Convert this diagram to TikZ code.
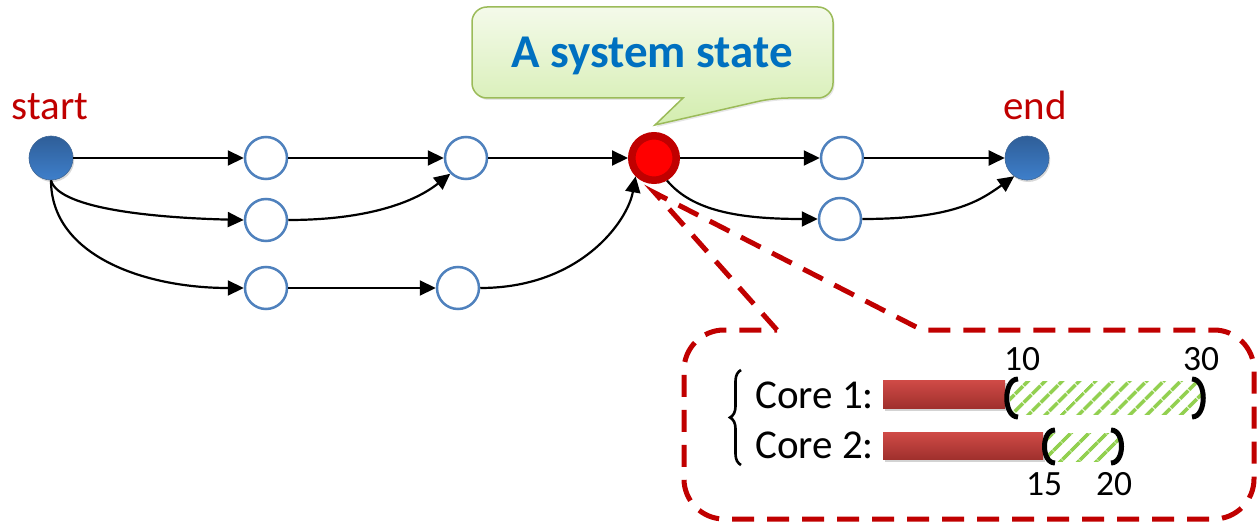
\documentclass[tikz,border=0pt]{standalone}
\usepackage{fontspec}
\setmainfont{Carlito}
\usetikzlibrary{arrows.meta,patterns.meta,decorations.pathreplacing,shadows}
\definecolor{nodeblue}{HTML}{4F81BD}
\definecolor{darkred}{HTML}{C00000}
\definecolor{brightred}{HTML}{FF0000}
\definecolor{titleblue}{HTML}{0070C0}
\definecolor{calloutborder}{HTML}{9BBB59}
\definecolor{callouttop}{HTML}{F4FAEA}
\definecolor{calloutbottom}{HTML}{D3EDAE}
\definecolor{hatchgreen}{HTML}{92D050}
\definecolor{bartop}{HTML}{D04B47}
\definecolor{barbottom}{HTML}{A0302D}
\definecolor{filltop}{HTML}{2F5E98}
\definecolor{fillbottom}{HTML}{3E7FCB}
\tikzset{
  emptynode/.style={circle, draw=nodeblue, line width=2.5pt, fill=white, minimum size=42pt, inner sep=0pt},
  fillednode/.style={circle, draw=nodeblue!80!black, line width=0.6pt, top color=filltop, bottom color=fillbottom, minimum size=44pt, inner sep=0pt,
     drop shadow={opacity=0.3, shadow xshift=1.2pt, shadow yshift=-2pt}},
  statenode/.style={circle, draw=darkred, line width=7.5pt, fill=brightred, minimum size=44.5pt, inner sep=0pt},
  arr/.style={-{Triangle[length=16pt,width=15pt]}, line width=2.2pt, black},
  endlbl/.style={font=\fontsize{41}{44}\selectfont, text=darkred, inner sep=0pt, anchor=base},
  corelbl/.style={font=\fontsize{41}{44}\selectfont, inner sep=0pt, anchor=base west},
  numlbl/.style={font=\fontsize{35.5}{38}\selectfont, inner sep=0pt, anchor=base},
  reddash/.style={draw=darkred, line width=5pt, dash pattern=on 22pt off 13pt},
  redbar/.style={top color=bartop, bottom color=barbottom, draw=none,
     drop shadow={opacity=0.35, shadow xshift=2pt, shadow yshift=-3pt}},
  hatchbar/.style={pattern={Lines[angle=45,distance=13pt,line width=4pt]}, pattern color=hatchgreen},
  paren/.style={line width=5pt, black}
}
\begin{document}
\begin{tikzpicture}[x=1pt,y=-1pt]
\useasboundingbox (0,0) rectangle (1259,527);

% callout
\path[top color=callouttop, bottom color=calloutbottom, draw=calloutborder, line width=1.5pt,
      drop shadow={opacity=0.2, shadow xshift=1.5pt, shadow yshift=-2pt}]
  (472,52) [rounded corners=15pt] -- (472,7) -- (833,7) -- (833,98) -- (773,98) [sharp corners] -- (655,125) -- (683,98) [rounded corners=15pt] -- (472,98) -- cycle;
\node[font=\fontsize{47}{50}\selectfont\bfseries, text=titleblue, inner sep=0pt, anchor=base] (title) at (652,68) {A system state};

% nodes
\node[fillednode] (start) at (51,158) {};
\node[emptynode] (a1) at (266,158) {};
\node[emptynode] (a2) at (466,158) {};
\node[statenode] (S) at (654,158) {};
\node[emptynode] (d1) at (842,158) {};
\node[fillednode] (end) at (1027,158) {};
\node[emptynode] (b1) at (266,220) {};
\node[emptynode] (d2) at (840,219) {};
\node[emptynode] (c1) at (266,288) {};
\node[emptynode] (c2) at (458,288) {};

\node[endlbl] (startlbl) at (50,120) {start};
\node[endlbl] (endlbl) at (1035,120) {end};

% edges
\draw[arr] (start) -- (a1);
\draw[arr] (a1) -- (a2);
\draw[arr] (a2) -- (S);
\draw[arr] (S) -- (d1);
\draw[arr] (d1) -- (end);
\draw[arr] (start.south) .. controls +(8,30) and +(-80,-2) .. (b1.west);
\draw[arr] (start.south) .. controls +(0,75) and +(-100,0) .. (c1.west);
\draw[arr] (b1.east) .. controls +(80,0) and +(-35,28) .. (a2.south west);
\draw[arr] (c1) -- (c2);
\draw[arr] (c2.east) .. controls +(100,0) and +(-8,45) .. (S.south west);
\draw[arr] (S.-60) .. controls +(25,30) and +(-80,0) .. (d2.west);
\draw[arr] (d2.east) .. controls +(90,0) and +(-35,25) .. (end.-125);

% zoom callout (dashed)
\coordinate (p1) at (655,193);
\coordinate (q1) at (777,330);
\coordinate (q2) at (922,330);
\draw[reddash] (q1) -- (p1) -- (q2) -- (1214,330) .. controls (1236,330) and (1254,348) .. (1254,370)
  -- (1254,479) .. controls (1254,501) and (1236,519) .. (1214,519)
  -- (724,519) .. controls (702,519) and (684,501) .. (684,479)
  -- (684,370) .. controls (684,348) and (702,330) .. (724,330) -- (q1);

% brace and core labels
\draw[decorate, decoration={brace, amplitude=11pt}, line width=2.6pt] (741,465) -- (741,370);
\node[corelbl] (core1) at (755,408) {Core 1:};
\node[corelbl] (core2) at (755,458) {Core 2:};

% bars
\path[redbar] (883,380) rectangle (1005,408);
\path[redbar] (883,432) rectangle (1043,459);
\path[hatchbar] (1010,381) rectangle (1202,414);
\path[hatchbar] (1047,433) rectangle (1119,461);

% brackets
\draw[paren] (1018,379) .. controls (1003,379) and (1003,417) .. (1018,417);
\draw[paren] (1192,379) .. controls (1207,379) and (1207,417) .. (1192,417);
\draw[paren] (1055,430) .. controls (1041,430) and (1041,463) .. (1055,463);
\draw[paren] (1111,430) .. controls (1125,430) and (1125,463) .. (1111,463);

% numbers
\node[numlbl] (n10) at (1022,370) {10};
\node[numlbl] (n30) at (1201,370) {30};
\node[numlbl] (n15) at (1044,495) {15};
\node[numlbl] (n20) at (1114,495) {20};
\end{tikzpicture}
\end{document}
